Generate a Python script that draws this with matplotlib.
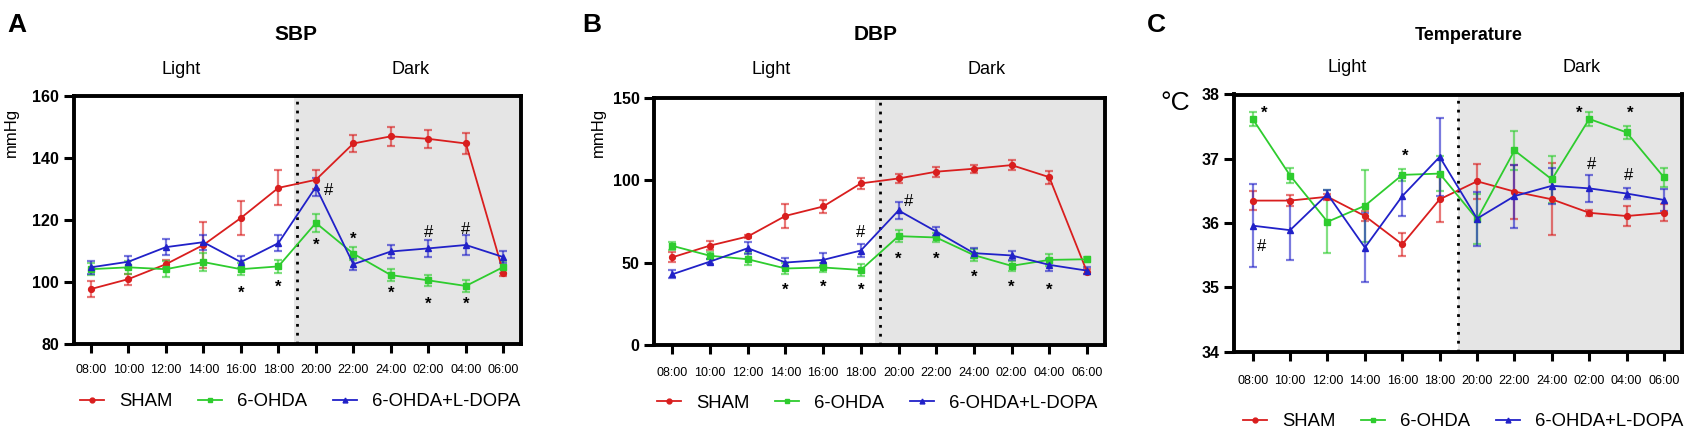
import matplotlib
matplotlib.use('Agg')
import matplotlib.pyplot as plt
from matplotlib.lines import Line2D
from matplotlib.colors import to_rgba
import numpy as np

plt.rcParams['font.family'] = ['Liberation Sans', 'DejaVu Sans']

# ---------------- data ----------------
times = ['08:00', '10:00', '12:00', '14:00', '16:00', '18:00',
         '20:00', '22:00', '24:00', '02:00', '04:00', '06:00']
groups = ['SHAM', '6-OHDA', '6-OHDA+L-DOPA']

sbp_sham = [97.8, 101.0, 105.8, 112.0, 120.7, 130.4, 133.0, 144.7, 147.0, 146.2, 144.7, 103.1]
sbp_sham_err = [2.6, 1.8, 1.2, 7.3, 5.4, 5.6, 3.0, 2.7, 3.0, 3.0, 3.3, 1.0]
sbp_ohda = [104.2, 104.8, 104.2, 106.5, 104.2, 105.1, 119.1, 109.2, 102.3, 100.6, 98.8, 104.9]
sbp_ohda_err = [2.0, 2.0, 2.5, 3.0, 2.0, 2.0, 3.0, 2.0, 2.0, 1.8, 1.8, 2.0]
sbp_ldopa = [104.8, 106.6, 111.3, 112.9, 106.5, 112.6, 130.7, 105.8, 109.9, 110.9, 112.0, 108.1]
sbp_ldopa_err = [2.0, 2.0, 2.5, 2.4, 2.0, 2.5, 3.0, 2.0, 2.0, 2.7, 3.3, 2.0]

dbp_sham = [53.4, 60.5, 66.0, 78.5, 84.2, 98.2, 101.2, 105.3, 107.1, 109.3, 102.0, 44.7]
dbp_sham_err = [3.0, 2.5, 1.0, 7.3, 4.0, 3.5, 2.5, 3.0, 2.5, 3.0, 4.0, 1.5]
dbp_ohda = [60.3, 54.3, 52.2, 46.6, 47.2, 45.7, 66.2, 65.4, 54.7, 48.2, 51.8, 52.2]
dbp_ohda_err = [2.5, 2.0, 3.5, 3.5, 2.5, 3.5, 3.5, 3.0, 3.5, 3.0, 3.5, 1.5]
dbp_ldopa = [43.1, 50.8, 58.9, 50.2, 51.8, 57.5, 81.8, 69.0, 55.9, 54.5, 48.8, 45.3]
dbp_ldopa_err = [2.5, 1.5, 3.5, 3.0, 4.0, 4.0, 5.0, 3.0, 3.0, 3.0, 3.5, 2.0]

temp_sham = [36.35, 36.35, 36.41, 36.11, 35.67, 36.37, 36.65, 36.49, 36.37, 36.16, 36.11, 36.16]
temp_sham_err = [0.15, 0.09, 0.05, 0.08, 0.18, 0.35, 0.27, 0.42, 0.56, 0.05, 0.15, 0.13]
temp_ohda = [37.62, 36.74, 36.02, 36.27, 36.75, 36.77, 36.06, 37.13, 36.68, 37.62, 37.41, 36.71]
temp_ohda_err = [0.11, 0.12, 0.49, 0.56, 0.09, 0.27, 0.39, 0.30, 0.36, 0.11, 0.10, 0.15]
temp_ldopa = [35.96, 35.89, 36.45, 35.62, 36.42, 37.03, 36.07, 36.42, 36.58, 36.54, 36.46, 36.36]
temp_ldopa_err = [0.65, 0.47, 0.07, 0.53, 0.31, 0.61, 0.42, 0.49, 0.28, 0.21, 0.09, 0.17]

# significance marks: (x index, y value, symbol)
sbp_marks = [(4, 97.5, '*'), (5, 99.5, '*'), (6, 112.8, '*'), (7, 114.8, '*'),
             (8, 97.5, '*'), (9, 94.0, '*'), (10, 94.0, '*'),
             (6.33, 130.4, '#'), (9, 117.0, '#'), (10, 118.0, '#')]
dbp_marks = [(3, 35.2, '*'), (4, 37.2, '*'), (5, 35.2, '*'), (6, 54.3, '*'),
             (7, 54.3, '*'), (8, 43.3, '*'), (9, 37.2, '*'), (10, 35.2, '*'),
             (5, 70.4, '#'), (6.26, 89.3, '#')]
temp_marks = [(0.3, 37.76, '*'), (4.07, 37.08, '*'), (8.73, 37.76, '*'), (10.1, 37.76, '*'),
              (0.24, 35.68, '#'), (9.06, 36.96, '#'), (10.04, 36.79, '#')]

# ---------------- style ----------------
W, H = 1687, 434
fig = plt.figure(figsize=(W / 100, H / 100), dpi=100)

RED = '#D91E1E'
GREEN = '#2ECC2E'
BLUE = '#2121C8'
colors = [RED, GREEN, BLUE]
markers = ['o', 's', '^']


def fx(x):
    return x / W


def fy(y):
    return 1 - y / H


def add_axes_px(l, r, t, b):
    return fig.add_axes([l / W, 1 - b / H, (r - l) / W, (b - t) / H])


def ftext(x, y, s, **kw):
    fig.text(fx(x), fy(y), s, ha='center', va='center', **kw)


def panel(ax, series, ylim, yticks, xlim, shade_start, marks, xpad):
    x = np.arange(len(times))
    ax.axvspan(shade_start, xlim[1], color='#E5E5E5', lw=0, zorder=0)
    ax.axvline(5.5, color='black', ls=(0, (1, 2.2)), lw=2.0, zorder=1)
    for (vals, errs), c, m in zip(series, colors, markers):
        ax.errorbar(x, vals, yerr=errs, color=c, marker=m, ms=4.2, lw=1.3,
                    ecolor=to_rgba(c, 0.6), elinewidth=1.6, capsize=3,
                    capthick=1.6, zorder=3)
    for xm, ym, s in marks:
        ax.annotate(s, (xm, ym), xytext=(0, -3), textcoords='offset pixels',
                    ha='center', va='center', fontsize=12, color='black',
                    fontweight='bold' if s == '*' else 'normal', zorder=4)
    ax.set_xlim(*xlim)
    ax.set_ylim(*ylim)
    ax.set_yticks(yticks)
    ax.set_yticklabels([str(v) for v in yticks], fontsize=11.5, fontweight='bold')
    ax.set_xticks(x)
    ax.set_xticklabels(times, fontsize=9)
    ax.tick_params(axis='y', direction='out', length=7.5, width=2.2, pad=3)
    ax.tick_params(axis='x', direction='out', length=6.5, width=2.2, pad=xpad)
    for sp in ax.spines.values():
        sp.set_linewidth(2.8)
        sp.set_zorder(5)


def legend(cx, cy):
    handles = [Line2D([], [], color=c, marker=m, ms=3.5, lw=1.3)
               for c, m in zip(colors, markers)]
    fig.legend(handles, groups, ncol=3, loc='center',
               bbox_to_anchor=(fx(cx), fy(cy)), frameon=False, fontsize=13.3,
               handlelength=1.3, handletextpad=0.8, columnspacing=1.4)


# ---------------- panel A ----------------
axA = add_axes_px(73.6, 521, 96, 344.3)
panel(axA, [(sbp_sham, sbp_sham_err), (sbp_ohda, sbp_ohda_err), (sbp_ldopa, sbp_ldopa_err)],
      (80, 160), [80, 100, 120, 140, 160], (-0.46, 11.47), 5.43, sbp_marks, 8)
ftext(17, 25, 'A', fontsize=19, fontweight='bold')
ftext(296, 35, 'SBP', fontsize=15, fontweight='bold')
ftext(181, 69, 'Light', fontsize=13)
ftext(411, 69, 'Dark', fontsize=13)
ftext(11, 132, 'mmHg', fontsize=12, rotation=90)
legend(300, 402)

# ---------------- panel B ----------------
axB = add_axes_px(654, 1105, 98, 345.3)
panel(axB, [(dbp_sham, dbp_sham_err), (dbp_ohda, dbp_ohda_err), (dbp_ldopa, dbp_ldopa_err)],
      (0, 150), [0, 50, 100, 150], (-0.49, 11.48), 5.38, dbp_marks, 9)
ftext(592, 25, 'B', fontsize=19, fontweight='bold')
ftext(876, 35, 'DBP', fontsize=15, fontweight='bold')
ftext(771, 69, 'Light', fontsize=13)
ftext(987, 69, 'Dark', fontsize=13)
ftext(598, 132, 'mmHg', fontsize=12, rotation=90)
legend(877, 403)

# ---------------- panel C ----------------
axC = add_axes_px(1234, 1682, 94.5, 351.7)
panel(axC, [(temp_sham, temp_sham_err), (temp_ohda, temp_ohda_err), (temp_ldopa, temp_ldopa_err)],
      (34, 38), [34, 35, 36, 37, 38], (-0.5, 11.48), 5.5, temp_marks, 10)
ftext(1156, 25, 'C', fontsize=19, fontweight='bold')
ftext(1469, 35, 'Temperature', fontsize=13, fontweight='bold')
ftext(1347, 68, 'Light', fontsize=13)
ftext(1582, 68, 'Dark', fontsize=13)
ftext(1175, 103, '°C', fontsize=19)
legend(1463, 422)

fig.savefig('out.png', dpi=100)
